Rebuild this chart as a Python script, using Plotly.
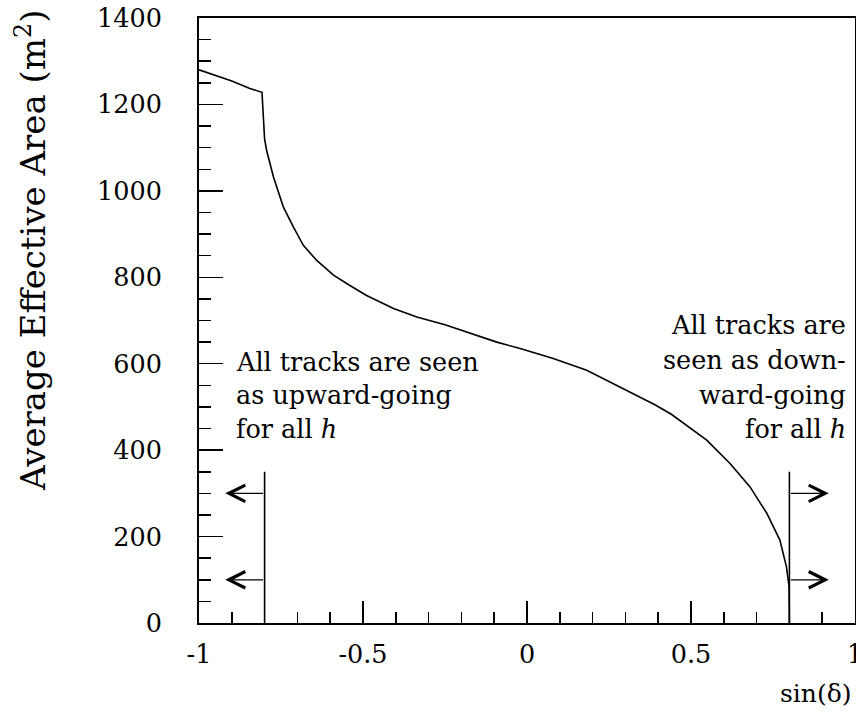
import plotly.graph_objects as go

# ---- data ----
sin_delta = [-1.0, -0.9, -0.845, -0.808, -0.800, -0.794, -0.773, -0.743, -0.712, -0.682,
             -0.641, -0.590, -0.540, -0.489, -0.407, -0.336, -0.25, -0.15, -0.092, -0.021,
             0.08, 0.182, 0.284, 0.34, 0.39, 0.44, 0.548, 0.619, 0.680, 0.731,
             0.771, 0.791, 0.799, 0.800]
avg_area = [1280, 1254, 1237, 1228, 1120, 1094, 1032, 963, 916, 874,
            839, 805, 781, 758, 728, 708, 690, 665, 650, 635,
            612, 585, 546, 523, 505, 483, 423, 369, 315, 254,
            192, 130, 84, 0]

boundary_x = [-0.8, 0.8]
boundary_top = 350
arrow_y = [100, 300]
arrow_len = 0.12

x_tick_vals = [-1, -0.5, 0, 0.5, 1]
x_tick_labels = ["-1", "-0.5", "0", "0.5", "1"]
y_tick_vals = [0, 200, 400, 600, 800, 1000, 1200, 1400]
y_tick_labels = ["0", "200", "400", "600", "800", "1000", "1200", "1400"]

left_text = ["All tracks are seen", "as upward-going", "for all <i>h</i>"]
right_text = ["All tracks are", "seen as down-", "ward-going", "for all <i>h</i>"]

FONT = "DejaVu Serif"

fig = go.Figure()

fig.add_trace(go.Scatter(x=sin_delta, y=avg_area, mode="lines",
                         line=dict(color="black", width=1.6), hoverinfo="skip"))

for b in boundary_x:
    fig.add_trace(go.Scatter(x=[b, b], y=[0, boundary_top], mode="lines",
                             line=dict(color="black", width=1.6), hoverinfo="skip"))

annotations = []
for b in boundary_x:
    direction = -1 if b < 0 else 1
    for yv in arrow_y:
        annotations.append(dict(
            x=b + direction * arrow_len, y=yv, ax=b, ay=yv,
            xref="x", yref="y", axref="x", ayref="y",
            showarrow=True, arrowhead=5, arrowsize=2.7, arrowwidth=1.2,
            arrowcolor="black", text=""))

left_y = [605, 528, 450]
for t, yv in zip(left_text, left_y):
    annotations.append(dict(x=-0.893, y=yv, xref="x", yref="y", text=t,
                            showarrow=False, xanchor="left", yanchor="middle",
                            font=dict(family=FONT, size=25.5, color="black")))

right_y = [690, 609, 528, 449]
for t, yv in zip(right_text, right_y):
    annotations.append(dict(x=0.978, y=yv, xref="x", yref="y", text=t,
                            showarrow=False, xanchor="right", yanchor="middle",
                            font=dict(family=FONT, size=25.5, color="black")))

# axis titles
annotations.append(dict(x=-0.256, y=0.615, xref="paper", yref="paper",
                        text="Average Effective Area (m<sup>2</sup>)", textangle=-90,
                        showarrow=False, xanchor="center", yanchor="middle",
                        font=dict(family=FONT, size=34, color="black")))
annotations.append(dict(x=0.997, y=-0.116, xref="paper", yref="paper",
                        text="sin(δ)", showarrow=False, xanchor="right", yanchor="middle",
                        font=dict(family=FONT, size=25, color="black")))

fig.update_layout(
    width=856, height=712,
    margin=dict(l=199, r=1, t=18, b=89, autoexpand=False),
    plot_bgcolor="white", paper_bgcolor="white",
    showlegend=False,
    font=dict(family=FONT, size=25, color="black"),
    annotations=annotations,
)

fig.update_xaxes(
    range=[-1, 1], showgrid=False, zeroline=False, automargin=False,
    showline=True, linecolor="black", linewidth=2, mirror=True,
    ticks="inside", ticklen=22, tickwidth=1.5, tickcolor="black",
    tickmode="array", tickvals=x_tick_vals, ticktext=x_tick_labels,
    ticklabelstandoff=7, ticklabeloverflow="allow",
    minor=dict(ticks="inside", ticklen=11, tickwidth=1.5, tickcolor="black",
               tickmode="linear", tick0=0, dtick=0.1, showgrid=False),
    tickfont=dict(family=FONT, size=25.5, color="black"),
)
fig.update_yaxes(
    range=[0, 1400], showgrid=False, zeroline=False, automargin=False,
    showline=True, linecolor="black", linewidth=2, mirror=True,
    ticks="inside", ticklen=24, tickwidth=1.5, tickcolor="black",
    tickmode="array", tickvals=y_tick_vals, ticktext=y_tick_labels,
    ticklabelstandoff=30,
    minor=dict(ticks="inside", ticklen=12, tickwidth=1.5, tickcolor="black",
               tickmode="linear", tick0=0, dtick=50, showgrid=False),
    tickfont=dict(family=FONT, size=25.5, color="black"),
)

fig.write_html(
    "out.html",
    config={"displayModeBar": False, "staticPlot": True},
    post_script="document.body.style.margin='0';document.body.style.overflow='hidden';",
)
